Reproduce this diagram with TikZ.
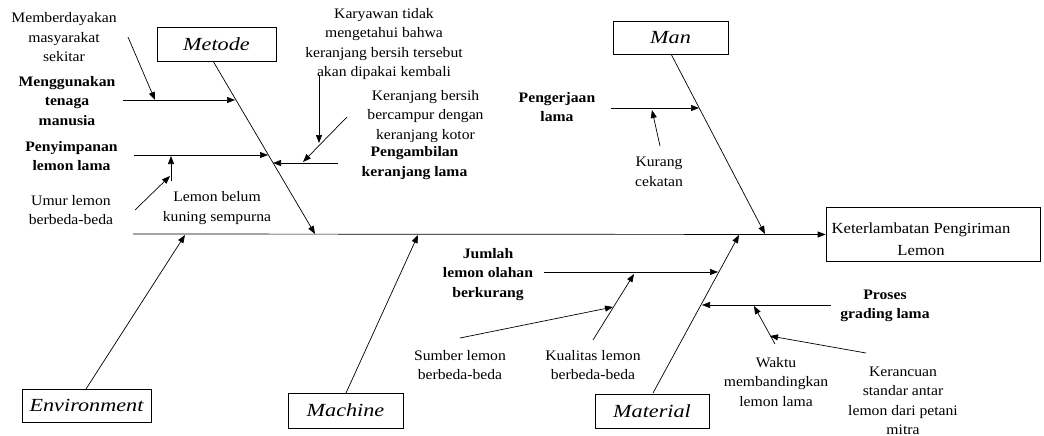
\documentclass[tikz,border=0pt]{standalone}
\usepackage{fontspec}
\setmainfont{Liberation Serif}[FakeStretch=1.08]
\newfontfamily\catfont{Liberation Serif}[FakeStretch=1.2]
\usetikzlibrary{arrows.meta}
\begin{document}
\begin{tikzpicture}[x=1pt,y=-1pt,
  bone/.style={line width=0.7pt,-{Triangle[length=8pt,width=6pt]}},
  cat/.style={draw,line width=0.7pt,inner sep=0,font=\catfont\fontsize{18.5}{22}\selectfont\itshape},
  lbl/.style={align=center,inner sep=0,font=\fontsize{14.5}{19.5}\selectfont},
  blbl/.style={align=center,inner sep=0,font=\fontsize{14.5}{19.5}\selectfont\bfseries}]
\useasboundingbox (0,0) rectangle (1044,436);
% category boxes
\node[cat,minimum width=119pt,minimum height=34pt] (metode) at (216.5,44) {Metode};
\node[cat,minimum width=115pt,minimum height=33pt] (man) at (670.5,37.5) {Man};
\node[cat,minimum width=129pt,minimum height=33pt] (env) at (86.5,405.5) {Environment};
\node[cat,minimum width=115pt,minimum height=35pt] (machine) at (345.5,410.5) {Machine};
\node[cat,minimum width=114pt,minimum height=34pt] (material) at (652,411) {Material};
\node[draw,line width=0.7pt,minimum width=214pt,minimum height=54pt,inner sep=0] (effect) at (933,234.5) {};
\node[align=center,inner sep=0,font=\fontsize{15.4}{22}\selectfont] (efftext) at (921,239) {Keterlambatan Pengiriman\\Lemon};
% coordinates
\coordinate (s0) at (133,234);
\coordinate (m0) at (213,61);   \coordinate (m1) at (315,234);
\coordinate (n0) at (671,54);   \coordinate (n1) at (765,234);
\coordinate (e0) at (86,389);   \coordinate (e1) at (185,235);
\coordinate (c0) at (346,393);  \coordinate (c1) at (418,235);
\coordinate (t0) at (653,393);  \coordinate (t1) at (739,235);
\coordinate (a1s) at (123,100); \coordinate (a1e) at (235,100);
\coordinate (b1s) at (128,37);  \coordinate (b1e) at (155,100);
\coordinate (a2s) at (134,155); \coordinate (a2e) at (268,155);
\coordinate (b2s) at (171,181); \coordinate (b2e) at (171,156);
\coordinate (b3s) at (135,210); \coordinate (b3e) at (170,176);
\coordinate (a3s) at (338,163); \coordinate (a3e) at (273,163);
\coordinate (b4s) at (319,75);  \coordinate (b4e) at (319,143);
\coordinate (b5s) at (347,117); \coordinate (b5e) at (303,162);
\coordinate (a4s) at (611,108); \coordinate (a4e) at (699,108);
\coordinate (b6s) at (660,146); \coordinate (b6e) at (652,110);
\coordinate (a5s) at (544,272); \coordinate (a5e) at (718,272);
\coordinate (b7s) at (593,340); \coordinate (b7e) at (634,274);
\coordinate (b8s) at (460,338); \coordinate (b8e) at (613,307);
\coordinate (a6s) at (831,305); \coordinate (a6e) at (702,305);
\coordinate (b9s) at (775,344); \coordinate (b9e) at (754,306);
\coordinate (b10s) at (866,353); \coordinate (b10e) at (770,336);
% spine and main bones
\draw[bone] (s0) -- (effect.west);
\draw[bone] (m0) -- (m1);
\draw[bone] (n0) -- (n1);
\draw[bone] (e0) -- (e1);
\draw[bone] (c0) -- (c1);
\draw[bone] (t0) -- (t1);
% sub bones
\foreach \p in {a1,b1,a2,b2,b3,a3,b4,b5,a4,b6,a5,b7,b8,a6,b9,b10}
  \draw[bone] (\p s) -- (\p e);
% labels
\node[lbl] (l1) at (64,37.5) {Memberdayakan\\masyarakat\\sekitar};
\node[blbl] (l2) at (67,101) {Menggunakan\\tenaga\\manusia};
\node[blbl] (l3) at (71.5,156) {Penyimpanan\\lemon lama};
\node[lbl] (l4) at (71,210) {Umur lemon\\berbeda-beda};
\node[lbl] (l5) at (217,208) {Lemon belum\\kuning sempurna};
\node[lbl] (l6) at (384,44) {Karyawan tidak\\mengetahui bahwa\\keranjang bersih tersebut\\akan dipakai kembali};
\node[lbl] (l7) at (425.5,116.5) {Keranjang bersih\\bercampur dengan\\keranjang kotor};
\node[blbl] (l8) at (414.5,163) {Pengambilan\\keranjang lama};
\node[blbl] (l9) at (557,107) {Pengerjaan\\lama};
\node[lbl] (l10) at (659,172) {Kurang\\cekatan};
\node[blbl] (l11) at (488,274.5) {Jumlah\\lemon olahan\\berkurang};
\node[lbl] (l12) at (460,365) {Sumber lemon\\berbeda-beda};
\node[lbl] (l13) at (593,365) {Kualitas lemon\\berbeda-beda};
\node[blbl] (l14) at (885,306) {Proses\\grading lama};
\node[lbl] (l15) at (776,382) {Waktu\\membandingkan\\lemon lama};
\node[lbl] (l16) at (903,401) {Kerancuan\\standar antar\\lemon dari petani\\mitra};
\end{tikzpicture}
\end{document}
